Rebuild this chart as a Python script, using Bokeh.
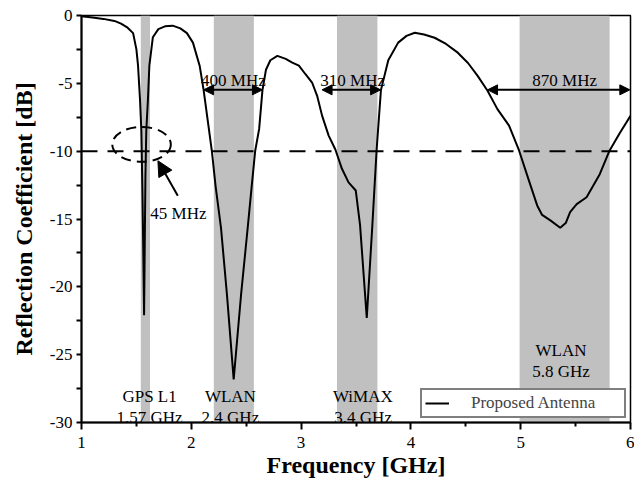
from bokeh.plotting import figure
from bokeh.models import (ColumnDataSource, FixedTicker, Arrow, NormalHead, Legend, LegendItem, Range1d)
from bokeh.core.properties import value
from bokeh.embed import file_html
from bokeh.resources import INLINE

# ---------------- data ----------------
freq = [1.0, 1.1, 1.2, 1.3, 1.36, 1.42, 1.47, 1.5, 1.515, 1.533, 1.545, 1.555, 1.562, 1.57,
        1.576, 1.582, 1.59, 1.605, 1.618, 1.65, 1.7, 1.76, 1.83, 1.9, 1.96, 2.015, 2.076,
        2.112, 2.16, 2.187, 2.22, 2.271, 2.325, 2.386, 2.453, 2.513, 2.55, 2.582, 2.618,
        2.648, 2.68, 2.72, 2.784, 2.86, 2.92, 2.98, 3.04, 3.1, 3.146, 3.191, 3.251, 3.312,
        3.372, 3.432, 3.498, 3.537, 3.598, 3.649, 3.688, 3.727, 3.794, 3.884, 3.96, 4.035,
        4.12, 4.216, 4.32, 4.427, 4.52, 4.608, 4.698, 4.788, 4.894, 4.985, 5.06, 5.15, 5.195,
        5.27, 5.36, 5.41, 5.45, 5.51, 5.60, 5.72, 5.81, 5.9, 6.0]
s11 = [-0.05, -0.15, -0.25, -0.4, -0.6, -0.9, -1.3, -2.5, -3.7, -6.2, -8.5, -13.0, -17.0, -22.1,
       -17.0, -12.0, -8.5, -6.2, -3.7, -1.6, -1.0, -0.8, -0.75, -0.95, -1.3, -2.0, -3.7,
       -5.48, -8.36, -9.97, -12.5, -15.7, -20.6, -26.82, -20.6, -15.7, -12.6, -9.97, -8.36,
       -5.5, -4.0, -3.3, -2.98, -3.2, -3.47, -3.7, -4.33, -4.94, -5.92, -7.38, -8.85, -9.88,
       -11.3, -12.3, -12.9, -15.45, -22.3, -15.45, -9.88, -5.5, -3.3, -2.0, -1.5, -1.27,
       -1.4, -1.64, -2.1, -2.74, -3.5, -4.45, -5.55, -6.9, -8.12, -9.95, -11.8, -14.0, -14.7,
       -15.1, -15.65, -15.3, -14.5, -13.9, -13.4, -11.7, -9.95, -8.7, -7.4]

band_left = [1.54, 2.205, 3.327, 4.99]
band_right = [1.624, 2.57, 3.695, 5.81]

band_text = ["GPS L1", "1.57 GHz", "WLAN", "2.4 GHz", "WiMAX", "3.4 GHz", "WLAN", "5.8 GHz"]
band_text_x = [1.62, 1.62, 2.356, 2.356, 3.562, 3.565, 5.367, 5.367]
band_text_y = [-28.08, -29.66, -28.08, -29.66, -28.05, -29.62, -24.72, -26.26]

bw_text = ["400 MHz", "310 MHz", "870 MHz", "45 MHz"]
bw_text_x = [2.383, 3.47, 5.40, 1.883]
bw_text_y = [-4.77, -4.77, -4.77, -14.6]

bw_x0 = [2.112, 3.191, 4.698]
bw_x1 = [2.648, 3.724, 5.994]
bw_y = [-5.48, -5.48, -5.48]

ptr_x0, ptr_y0, ptr_x1, ptr_y1 = [1.877], [-13.28], [1.696], [-10.71]
ell_x, ell_y, ell_w, ell_h = [1.547], [-9.5], [0.533], [2.57]

ref_level = [-10.0, -10.0]
ref_x = [1.0, 6.0]

x_ticks = [1, 2, 3, 4, 5, 6]
x_minor = [1.5, 2.5, 3.5, 4.5, 5.5]
y_ticks = [-30, -25, -20, -15, -10, -5, 0]
y_minor = [-27.5, -22.5, -17.5, -12.5, -7.5, -2.5]
y_tick_labels = ["-30", "-25", "-20", "-15", "-10", "-5", "0"]

SERIF = "Liberation Serif"

# ---------------- figure ----------------
p = figure(width=634, height=480, output_backend="svg", toolbar_location=None,
           x_range=Range1d(1, 6), y_range=Range1d(-30, 0),
           min_border_left=81, min_border_right=4, min_border_top=15, min_border_bottom=58)
p.background_fill_color = "white"
p.border_fill_color = "white"
p.outline_line_color = "black"
p.outline_line_width = 1.5
p.xgrid.visible = False
p.ygrid.visible = False

# bands
p.quad(left=band_left, right=band_right, bottom=-30, top=0,
       fill_color="#c0c0c0", line_color=None)

# reference -10 dB line
p.line(ref_x, ref_level, line_color="black", line_width=2, line_dash="16 10")

# curve
r = p.line(freq, s11, line_color="black", line_width=2)

# dashed ellipse
p.ellipse(x=ell_x, y=ell_y, width=ell_w, height=ell_h, fill_color=None,
          line_color="black", line_width=2, line_dash="10 6")

# bandwidth arrows
asrc = ColumnDataSource(dict(x0=bw_x0, x1=bw_x1, y=bw_y))
p.add_layout(Arrow(x_start="x0", y_start="y", x_end="x1", y_end="y", source=asrc,
                   line_width=2, line_color="black",
                   start=NormalHead(size=10, fill_color="black", line_color="black"),
                   end=NormalHead(size=10, fill_color="black", line_color="black")))
p.add_layout(Arrow(x_start=ptr_x0[0], y_start=ptr_y0[0], x_end=ptr_x1[0], y_end=ptr_y1[0],
                   line_width=2, line_color="black",
                   end=NormalHead(size=15, fill_color="black", line_color="black")))

# texts
p.text(x=band_text_x, y=band_text_y, text=band_text, text_font=value(SERIF),
       text_font_size="17px", text_align="center", text_baseline="alphabetic",
       text_color="black")
p.text(x=bw_text_x, y=bw_text_y, text=bw_text, text_font=value(SERIF),
       text_font_size="17px", text_align="center", text_baseline="alphabetic",
       text_color="black")

# axes
p.xaxis.ticker = FixedTicker(ticks=x_ticks, minor_ticks=x_minor)
p.yaxis.ticker = FixedTicker(ticks=y_ticks, minor_ticks=y_minor)
p.yaxis.major_label_overrides = {t: l for t, l in zip(y_ticks, y_tick_labels)}
for ax in (p.xaxis[0], p.yaxis[0]):
    ax.axis_line_width = 2
    ax.axis_line_color = "black"
    ax.major_tick_line_width = 2
    ax.minor_tick_line_width = 2
    ax.major_tick_line_color = "black"
    ax.minor_tick_line_color = "black"
    ax.major_tick_in = 0
    ax.minor_tick_in = 0
    ax.major_label_text_font = SERIF
    ax.major_label_text_font_size = "17px"
    ax.major_label_text_color = "black"
    ax.axis_label_text_font = SERIF
    ax.axis_label_text_font_size = "24px"
    ax.axis_label_text_font_style = "bold"
    ax.axis_label_text_color = "black"
p.xaxis.major_tick_out = 7
p.xaxis.minor_tick_out = 4
p.yaxis.major_tick_out = 5
p.yaxis.minor_tick_out = 5
p.xaxis.major_label_standoff = 7
p.yaxis.major_label_standoff = 4
p.xaxis.axis_label = "Frequency [GHz]"
p.yaxis.axis_label = "Reflection Coefficient [dB]"
p.xaxis.axis_label_standoff = 1
p.yaxis.axis_label_standoff = 10

# legend
legend = Legend(items=[LegendItem(label="Proposed Antenna", renderers=[r])],
                location="bottom_right", margin=4, padding=3, spacing=0,
                glyph_width=24, glyph_height=20, label_standoff=22, label_width=150,
                label_text_font=SERIF, label_text_font_size="17px",
                border_line_color="black", border_line_width=2,
                background_fill_color="white", background_fill_alpha=1.0)
p.add_layout(legend)

open("out.html", "w").write(file_html(p, INLINE))
